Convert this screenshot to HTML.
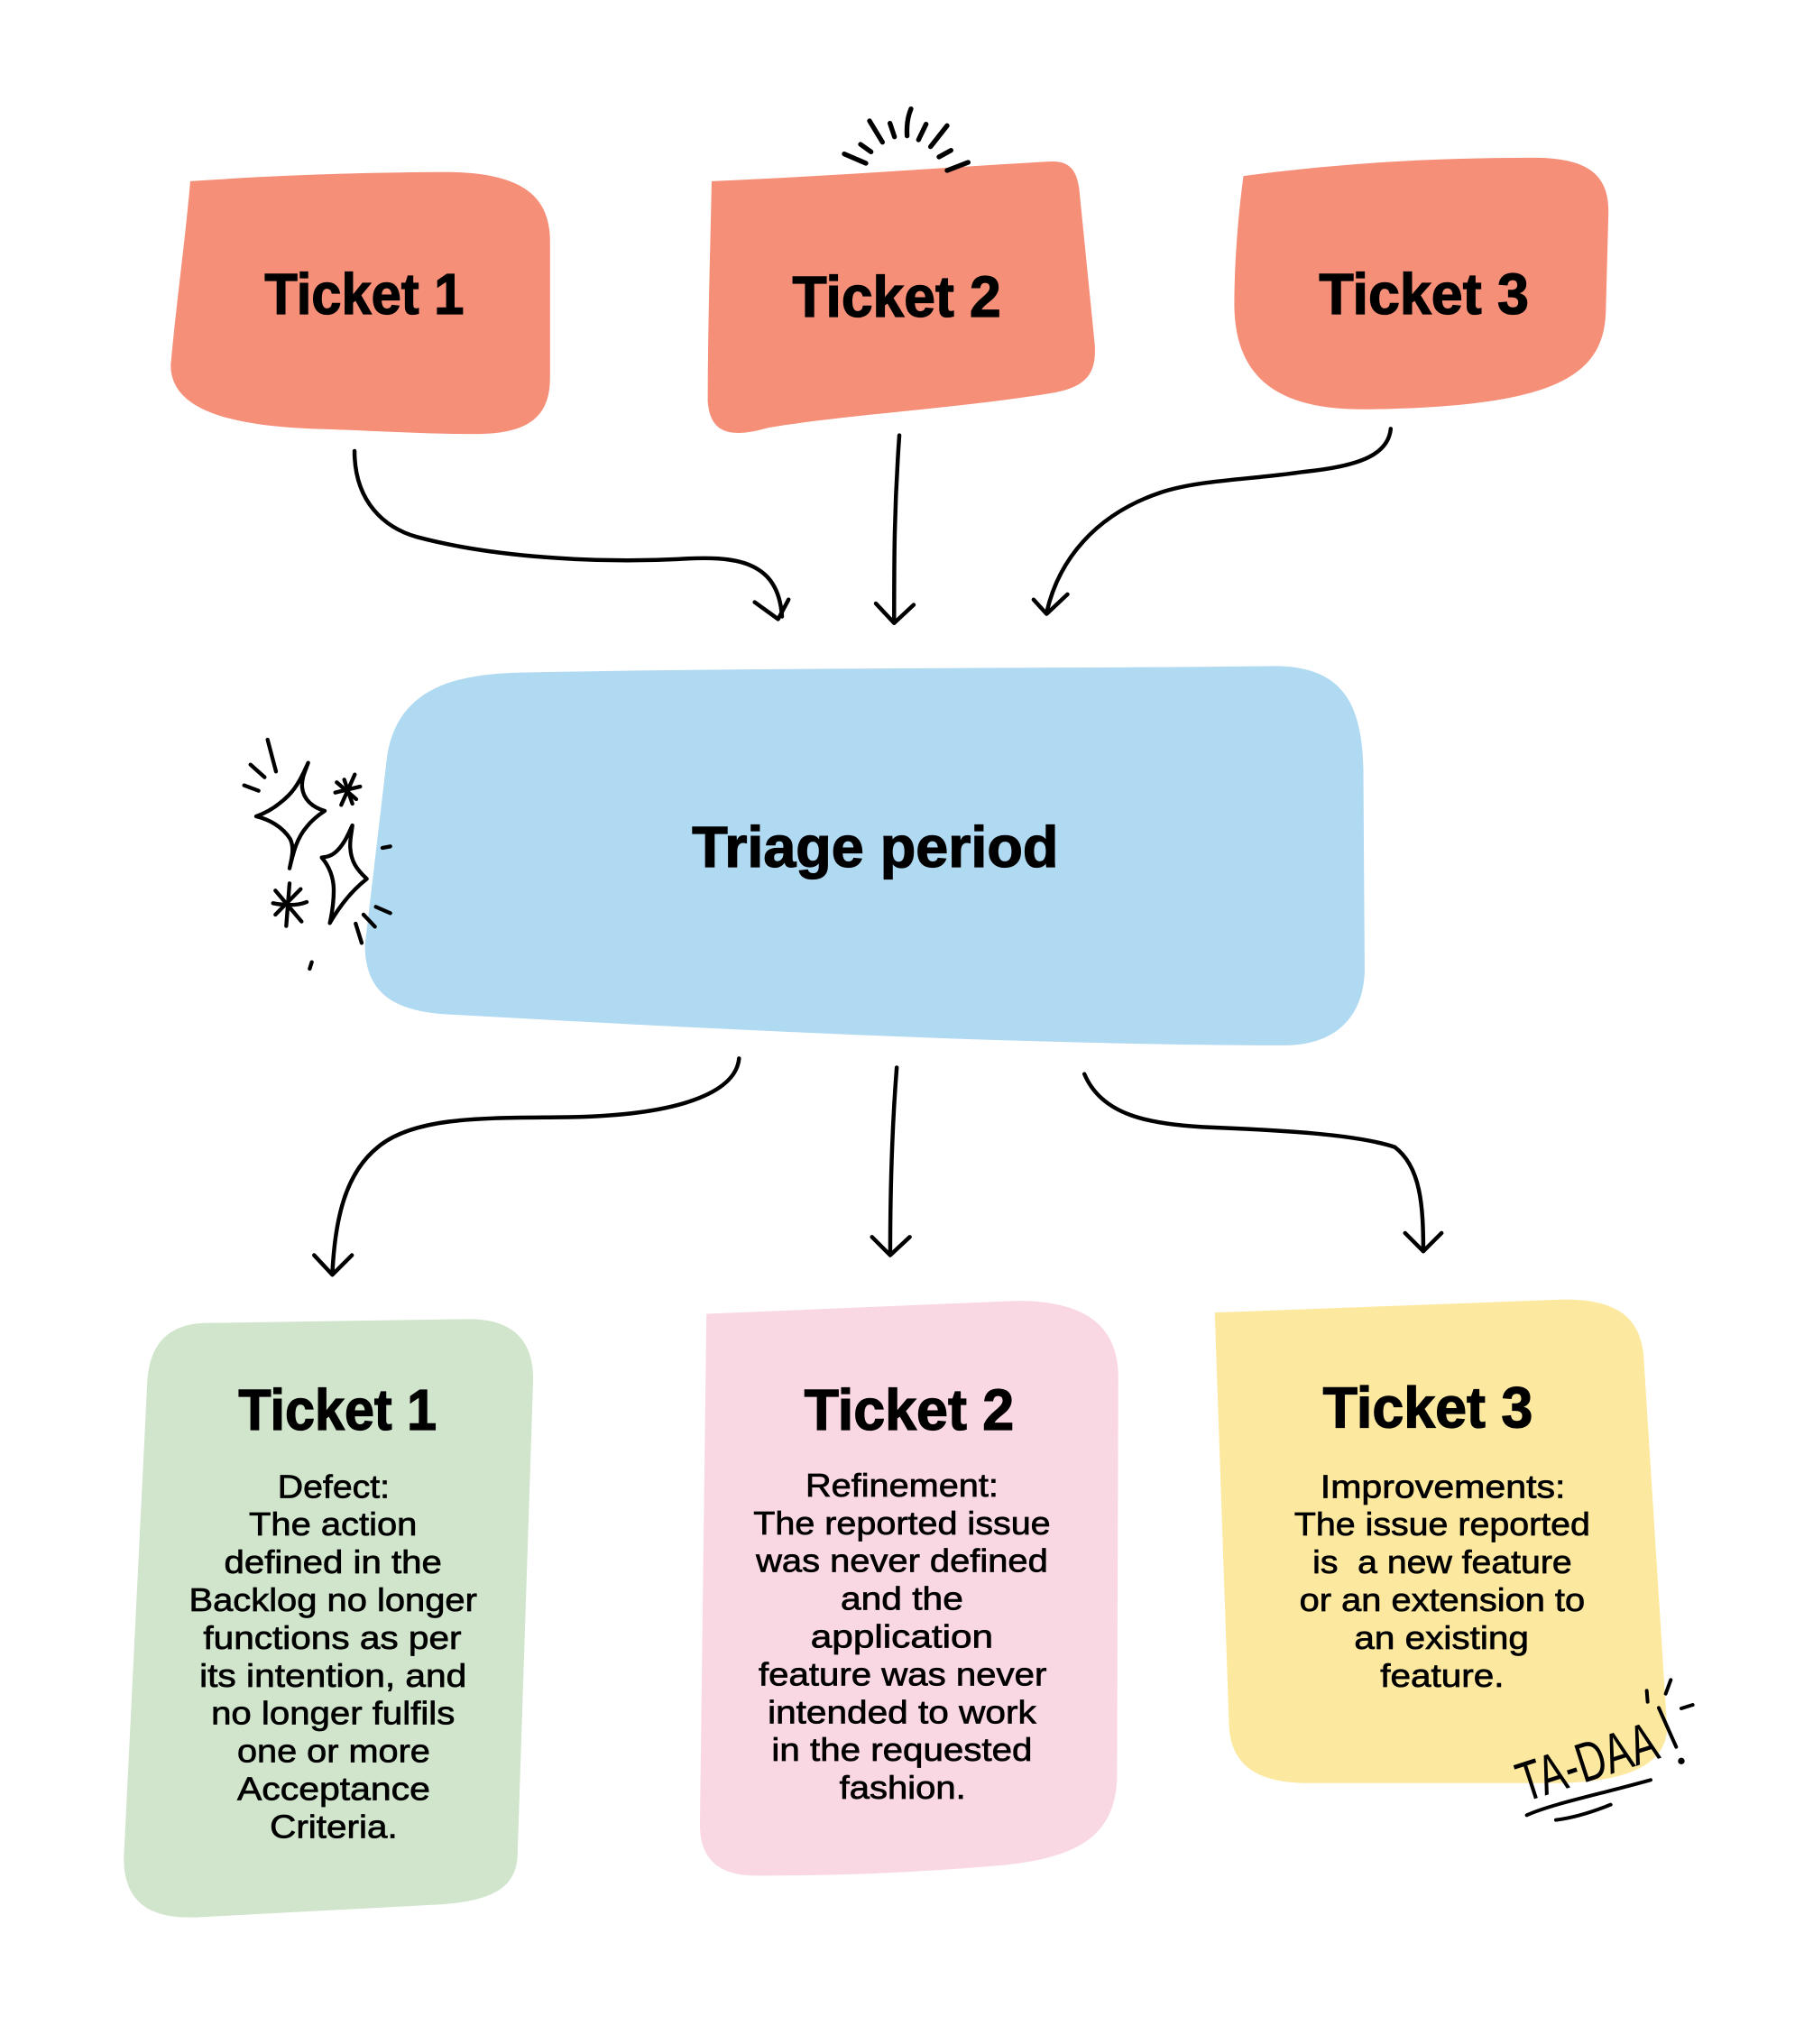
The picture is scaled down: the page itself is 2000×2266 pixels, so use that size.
<!DOCTYPE html>
<html><head><meta charset="utf-8"><style>
html,body{margin:0;padding:0;background:#fff}
svg{display:block}
text{font-family:"Liberation Sans",sans-serif;fill:#000}
.t{font-weight:bold;font-size:44px;stroke:#000;stroke-width:.9px}
.b{font-size:25px;stroke:#000;stroke-width:.5px;font-weight:normal}
.c{fill:none;stroke:#000;stroke-width:3.1;stroke-linecap:round;stroke-linejoin:round}
.k{fill:none;stroke:#000;stroke-linecap:round;stroke-linejoin:round}
</style></head><body>
<svg xmlns="http://www.w3.org/2000/svg" width="2000" height="2266" viewBox="0 0 2000 2266">
<rect width="2000" height="2266" fill="#fff"/>
<g transform="scale(1.445)">
<path fill="#F58F78" d="M146,139 C220,134 290,132 345,132 C400,133 422,150 422,185 L422,290 C422,320 405,333 365,333 C320,333 280,330 240,329 C165,326 131,310 131,280 C135,235 142,185 146,139Z"/>
<path fill="#F58F78" d="M546,139 C640,135 730,128 805,124 C820,123 826,130 828,145 L840,265 C841,285 835,296 810,301 C740,313 650,318 590,328 C565,335 545,336 543,308 C543,250 545,190 546,139Z"/>
<path fill="#F58F78" d="M954,135 C1030,125 1100,121 1180,121 C1220,122 1235,135 1234,165 L1232,240 C1230,290 1190,312 1050,314 C980,315 948,290 947,235 C947,200 950,165 954,135Z"/>
<path fill="#B0D9F2" d="M297,580 C305,530 345,517 400,516 C600,512 800,513 980,511 C1030,512 1045,540 1046,590 L1047,745 C1046,780 1025,802 985,802 C800,802 550,790 340,778 C300,775 280,760 280,725 Z"/>
<path fill="#D0E5CC" d="M113,1060 C115,1030 130,1015 160,1015 L360,1012 C395,1012 410,1030 409,1060 L397,1425 C395,1450 375,1458 340,1461 L150,1471 C115,1472 95,1460 95,1425 Z"/>
<path fill="#F9D8E3" d="M542,1008 L780,998 C830,998 857,1015 858,1055 L857,1365 C855,1410 825,1425 770,1431 C700,1437 640,1439 580,1439 C550,1439 537,1425 537,1400 Z"/>
<path fill="#FCE99F" d="M932,1007 L1200,997 C1240,997 1258,1010 1261,1040 L1279,1325 C1279,1350 1256,1367 1195,1368 L1000,1368 C965,1367 945,1355 943,1325 Z"/>

<g class="c">
<path d="M272,346 C272,385 295,405 320,412 C380,428 460,432 520,429 C565,426 597,430 600,473"/><path d="M579,462 L597,475 L605,460"/>
<path d="M690,334 C686,390 686,430 686,477"/><path d="M672,463 L686,478 L701,464"/>
<path d="M1067,329 C1065,350 1040,358 1000,362 C960,368 920,368 890,378 C840,395 812,430 803,470"/><path d="M793,460 L803,471 L819,456"/>
<path d="M567,812 C565,835 530,855 440,857 C380,858 320,855 290,880 C265,900 257,935 255,977"/><path d="M241,963 L255,978 L270,963"/>
<path d="M688,819 C684,870 683,920 683,962"/><path d="M669,949 L683,963 L698,949"/>
<path d="M832,824 C845,855 880,863 930,865 C980,867 1040,870 1070,880 C1090,895 1092,925 1092,960"/><path d="M1078,946 L1092,960 L1106,946"/>
</g>

<text class="t" x="203" y="241" textLength="153" lengthAdjust="spacingAndGlyphs">Ticket 1</text>
<text class="t" x="608" y="243" textLength="160" lengthAdjust="spacingAndGlyphs">Ticket 2</text>
<text class="t" x="1012" y="241" textLength="161" lengthAdjust="spacingAndGlyphs">Ticket 3</text>
<text class="t" x="531" y="665" textLength="281" lengthAdjust="spacingAndGlyphs">Triage period</text>
<text class="t" x="183" y="1097" textLength="152" lengthAdjust="spacingAndGlyphs">Ticket 1</text>
<text class="t" x="617" y="1097" textLength="161" lengthAdjust="spacingAndGlyphs">Ticket 2</text>
<text class="t" x="1015" y="1095" textLength="161" lengthAdjust="spacingAndGlyphs">Ticket 3</text>

<g>
<text class="b" x="213" y="1149" textLength="86" lengthAdjust="spacingAndGlyphs">Defect:</text>
<text class="b" x="191" y="1178" textLength="129" lengthAdjust="spacingAndGlyphs">The action</text>
<text class="b" x="172" y="1207" textLength="167" lengthAdjust="spacingAndGlyphs">defined in the</text>
<text class="b" x="145" y="1236" textLength="221" lengthAdjust="spacingAndGlyphs">Backlog no longer</text>
<text class="b" x="156" y="1265" textLength="198" lengthAdjust="spacingAndGlyphs">functions as per</text>
<text class="b" x="153" y="1294" textLength="205" lengthAdjust="spacingAndGlyphs">its intention, and</text>
<text class="b" x="162" y="1323" textLength="187" lengthAdjust="spacingAndGlyphs">no longer fulfils</text>
<text class="b" x="182" y="1352" textLength="148" lengthAdjust="spacingAndGlyphs">one or more</text>
<text class="b" x="182" y="1381" textLength="148" lengthAdjust="spacingAndGlyphs">Acceptance</text>
<text class="b" x="207" y="1410" textLength="98" lengthAdjust="spacingAndGlyphs">Criteria.</text>

<text class="b" x="618" y="1148" textLength="148" lengthAdjust="spacingAndGlyphs">Refinement:</text>
<text class="b" x="578" y="1177" textLength="228" lengthAdjust="spacingAndGlyphs">The reported issue</text>
<text class="b" x="580" y="1206" textLength="224" lengthAdjust="spacingAndGlyphs">was never defined</text>
<text class="b" x="645" y="1235" textLength="94" lengthAdjust="spacingAndGlyphs">and the</text>
<text class="b" x="622" y="1264" textLength="140" lengthAdjust="spacingAndGlyphs">application</text>
<text class="b" x="582" y="1293" textLength="221" lengthAdjust="spacingAndGlyphs">feature was never</text>
<text class="b" x="589" y="1322" textLength="206" lengthAdjust="spacingAndGlyphs">intended to work</text>
<text class="b" x="592" y="1351" textLength="200" lengthAdjust="spacingAndGlyphs">in the requested</text>
<text class="b" x="644" y="1380" textLength="97" lengthAdjust="spacingAndGlyphs">fashion.</text>

<text class="b" x="1013" y="1149" textLength="188" lengthAdjust="spacingAndGlyphs">Improvements:</text>
<text class="b" x="993" y="1178" textLength="227" lengthAdjust="spacingAndGlyphs">The issue reported</text>
<text class="b" x="1007" y="1207" textLength="199" lengthAdjust="spacingAndGlyphs" xml:space="preserve">is  a new feature</text>
<text class="b" x="997" y="1236" textLength="219" lengthAdjust="spacingAndGlyphs">or an extension to</text>
<text class="b" x="1039" y="1265" textLength="134" lengthAdjust="spacingAndGlyphs">an existing</text>
<text class="b" x="1059" y="1294" textLength="95" lengthAdjust="spacingAndGlyphs">feature.</text>
</g>
</g>

<!-- burst -->
<g transform="translate(900,100) scale(.3333)" class="k" stroke-width="16">
<path d="M108,212 L180,243M162,180 L197,205M192,102 L235,173M260,110 L275,155M330,62 C318,90 315,120 317,152M380,113 L355,165M450,118 L395,188M463,200 L423,222M520,240 L450,267"/>
</g>

<!-- sparkles -->
<g transform="translate(230,780) scale(.3333)" class="k" stroke-width="13">
<path d="M335,197 C320,230 300,275 270,305 C235,340 200,362 162,375 C205,385 250,410 275,450 C290,480 280,515 273,548 C285,500 295,450 330,410 C350,385 370,370 390,357 C350,345 320,320 315,280 C312,250 325,225 335,197Z"/>
<path d="M482,405 C470,430 455,470 425,495 C410,508 395,510 380,512 C405,540 420,580 420,620 C420,660 415,695 407,730 C430,690 470,630 530,583 C495,550 478,525 475,480 C473,450 480,430 482,405Z"/>
<path d="M200,120 L228,226M143,203 L190,245M122,272 L170,290"/>
<path d="M490,236 L445,337M455,253 L482,333M430,262 L495,318M425,296 L508,276"/>
<path d="M273,598 L262,740M226,622 L313,725M310,617 L226,702M218,664 C260,672 300,672 330,660"/>
<path d="M582,480 L608,475M560,676 L608,697M519,702 L557,742M493,732 L513,796M347,860 L340,882"/>
</g>

<!-- TA-DAA -->
<text transform="translate(1690,1998) rotate(-18)" font-size="62" textLength="160" lengthAdjust="spacingAndGlyphs" style="font-weight:normal">TA-DAA</text>
<g transform="translate(1620,1820) scale(.3333)" class="k" stroke-width="12">
<path d="M657,220 L715,350M617,163 L620,200M697,127 L680,173M732,222 L770,210"/>
<path d="M218,577 C300,540 450,510 630,460M315,593 C380,585 440,565 497,542"/>
<circle cx="732" cy="397" r="5" fill="#000"/>
</g>
</svg>
</body></html>
